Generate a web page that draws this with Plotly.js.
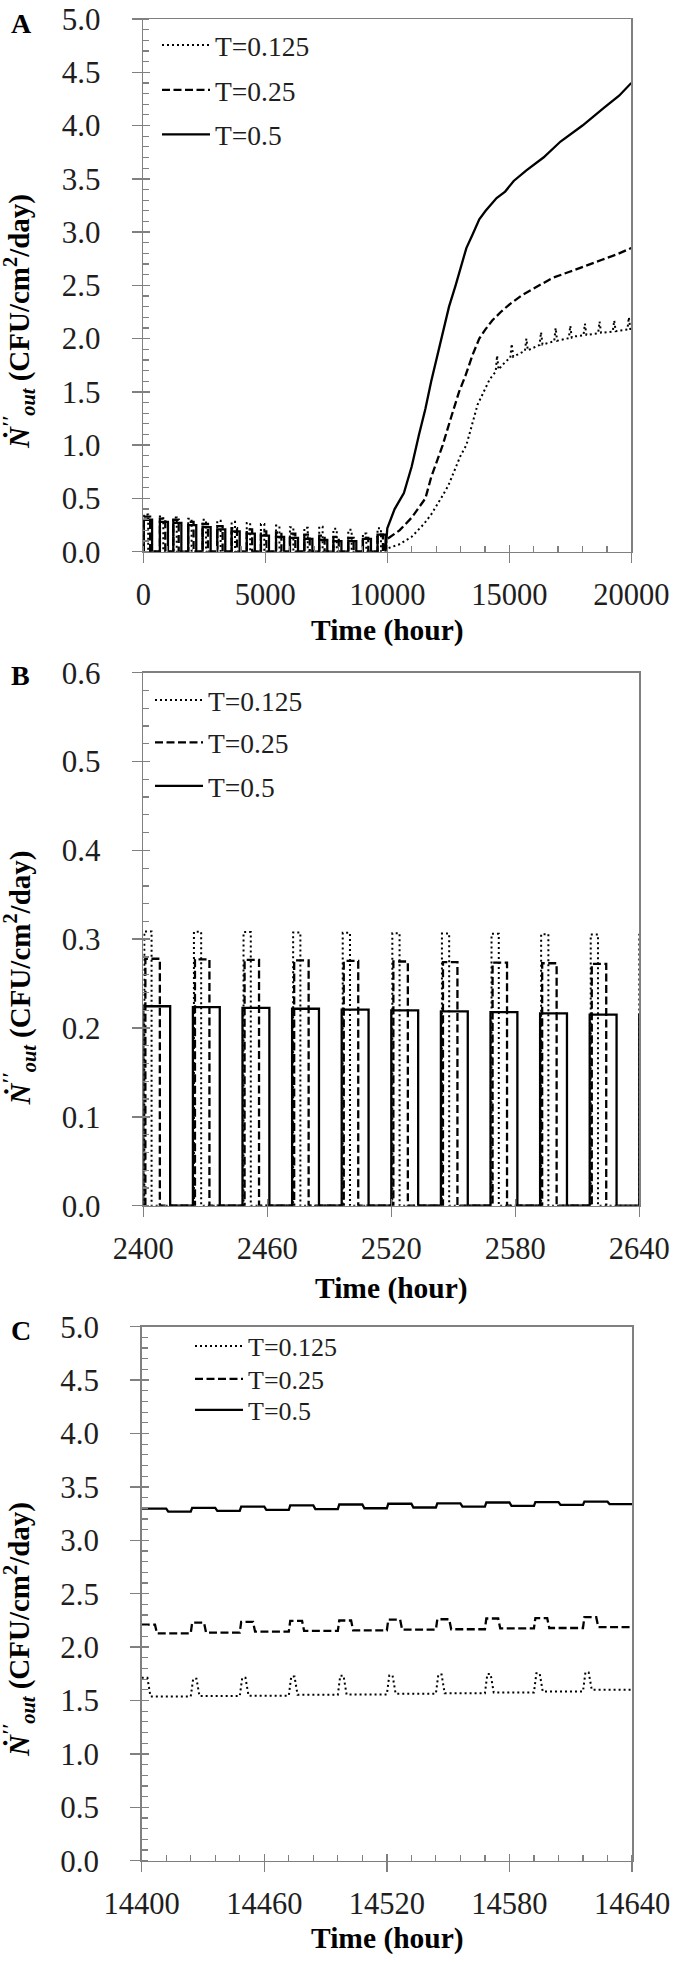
<!DOCTYPE html>
<html><head><meta charset="utf-8">
<script src="https://cdn.plot.ly/plotly-3.0.1.min.js"></script>
<style>html,body{margin:0;padding:0;background:#fff}#chart{width:677px;height:1962px}</style>
</head><body><div id="chart"></div>
<script>
// ---------------- DATA ----------------
const seriesNames = ['T=0.125', 'T=0.25', 'T=0.5'];

// Panel A: long run, 0-20000 h. Early comb blocks (start, end, height) then the rise.
const combStartA   = [20, 680, 1230, 1840, 2430, 3030, 3620, 4240, 4820, 5440, 6010, 6600, 7210, 7790, 8400, 9000, 9600];
const combEndSolidA= [360, 1010, 1560, 2170, 2760, 3360, 3950, 4570, 5150, 5770, 6340, 6930, 7540, 8120, 8730, 9330, 9930];
const combEndDashA = [280, 900, 1450, 2060, 2650, 3250, 3840, 4460, 5040, 5660, 6230, 6820, 7430, 8010, 8620, 9220, 9820];
const combEndDotA  = [200, 820, 1370, 1980, 2570, 3170, 3760, 4380, 4960, 5580, 6150, 6740, 7350, 7930, 8540, 9140, 9740];
const combSolidA   = [0.30, 0.28, 0.27, 0.25, 0.23, 0.21, 0.19, 0.17, 0.15, 0.14, 0.13, 0.12, 0.11, 0.10, 0.10, 0.12, 0.16];
const combDashA    = [0.33, 0.31, 0.30, 0.28, 0.26, 0.24, 0.22, 0.21, 0.19, 0.18, 0.17, 0.16, 0.15, 0.14, 0.13, 0.13, 0.16];
const combDotA     = [0.35, 0.33, 0.32, 0.31, 0.30, 0.29, 0.28, 0.27, 0.26, 0.245, 0.23, 0.225, 0.235, 0.215, 0.205, 0.17, 0.22];

const riseXSolidA = [10000, 10300, 10680, 11000, 11300, 11560, 11800, 12000, 12270, 12530, 12800, 13000, 13240, 13500, 13770, 14030, 14480, 14830, 15180, 15700, 16400, 17100, 18000, 18900, 19500, 20000];
const riseYSolidA = [0.22, 0.40, 0.55, 0.80, 1.10, 1.34, 1.60, 1.80, 2.06, 2.30, 2.50, 2.65, 2.85, 2.98, 3.12, 3.20, 3.32, 3.38, 3.48, 3.58, 3.70, 3.85, 4.00, 4.17, 4.28, 4.40];
const riseXDashA  = [10000, 10500, 11000, 11300, 11560, 11800, 12000, 12270, 12600, 12940, 13200, 13500, 13770, 14000, 14300, 14650, 15000, 15530, 16000, 16770, 17500, 18180, 18800, 19400, 20000];
const riseYDashA  = [0.12, 0.20, 0.32, 0.42, 0.50, 0.70, 0.82, 1.00, 1.25, 1.50, 1.65, 1.85, 2.00, 2.08, 2.17, 2.25, 2.32, 2.41, 2.47, 2.57, 2.63, 2.69, 2.74, 2.79, 2.85];
const riseXDotA   = [10000, 10500, 11000, 11500, 11800, 12000, 12200, 12500, 12800, 13000, 13240, 13500, 13700, 13950, 14200, 14440, 14500, 14560, 14830, 15040, 15100, 15160, 15600, 15640, 15700, 15760, 16240, 16300, 16360, 16840, 16900, 16960, 17440, 17500, 17560, 17650, 18040, 18100, 18160, 18640, 18700, 18760, 19240, 19300, 19360, 19840, 19900, 19960, 20000];
const riseYDotA   = [0.03, 0.07, 0.14, 0.26, 0.35, 0.42, 0.50, 0.62, 0.78, 0.90, 1.00, 1.22, 1.38, 1.50, 1.62, 1.69, 1.84, 1.71, 1.78, 1.82, 1.95, 1.83, 1.88, 1.885, 2.00, 1.89, 1.94, 2.06, 1.945, 1.975, 2.10, 1.98, 2.005, 2.12, 2.01, 2.02, 2.03, 2.14, 2.035, 2.05, 2.16, 2.055, 2.065, 2.17, 2.07, 2.085, 2.20, 2.09, 2.09];

// Panel B: 2400-2640 h, daily pulses
const solidStartB = [2400, 2424, 2448, 2472, 2496, 2520, 2544, 2568, 2592, 2616, 2640];
const solidEndB   = [2413, 2437, 2461, 2485, 2509, 2533, 2557, 2581, 2605, 2629, 2653];
const solidPeakB  = [0.2245, 0.2236, 0.2226, 0.2217, 0.2207, 0.2198, 0.2188, 0.2178, 0.2164, 0.2150, 0.2150];
const dashStartB  = [2401, 2425, 2449, 2473, 2497, 2521, 2545, 2569, 2593, 2617];
const dashEndB    = [2408, 2432, 2456, 2480, 2504, 2528, 2552, 2576, 2600, 2624];
const dashPeakB   = [0.2780, 0.2774, 0.2768, 0.2761, 0.2755, 0.2749, 0.2742, 0.2736, 0.2729, 0.2723];
const dotStartB   = [2400.5, 2424.5, 2448.5, 2472.5, 2496.5, 2520.5, 2544.5, 2568.5, 2592.5, 2616.5, 2640];
const dotEndB     = [2404, 2428, 2452, 2476, 2500, 2524, 2548, 2572, 2596, 2620, 2644];
const dotPeakB    = [0.3088, 0.3084, 0.3080, 0.3076, 0.3072, 0.3068, 0.3064, 0.3060, 0.3057, 0.3053, 0.3050];

// Panel C: 14400-14640 h, daily ripple (high / low level of each day)
const dayStartC  = [14400, 14424, 14448, 14472, 14496, 14520, 14544, 14568, 14592, 14616];
const solidHighC = [3.296, 3.303, 3.315, 3.327, 3.335, 3.342, 3.346, 3.354, 3.358, 3.362];
const solidLowC  = [3.268, 3.276, 3.284, 3.292, 3.300, 3.307, 3.315, 3.323, 3.331, 3.339];
const dashHighC  = [2.210, 2.230, 2.237, 2.245, 2.249, 2.257, 2.261, 2.268, 2.272, 2.280];
const dashLowC   = [2.128, 2.136, 2.144, 2.152, 2.156, 2.163, 2.167, 2.175, 2.179, 2.187];
const dotHighC   = [1.712, 1.704, 1.712, 1.724, 1.732, 1.735, 1.743, 1.747, 1.755, 1.763];
const dotLowC    = [1.537, 1.541, 1.545, 1.553, 1.556, 1.564, 1.568, 1.576, 1.584, 1.600];
const endC = 14640;
// on-phase timing per series (hours): rise, on-duration, fall
const phaseSolidC = [0.7, 12, 1];
const phaseDashC  = [0.7, 6.5, 1];
const phaseDotC   = [1.2, 2.8, 1.5];

// ---------------- BUILDERS ----------------
function pulses(starts, ends, heights) {
  const x = [], y = [];
  starts.forEach((s, i) => { x.push(s, s, ends[i], ends[i]); y.push(0, heights[i], heights[i], 0); });
  return {x, y};
}
function ripple(starts, phase, highs, lows, endT) {
  const x = [], y = [];
  starts.forEach((s, i) => {
    x.push(i === 0 ? s : s + phase[0]); y.push(highs[i]);
    x.push(s + phase[1]); y.push(highs[i]);
    x.push(s + phase[1] + phase[2]); y.push(lows[i]);
    x.push(i + 1 < starts.length ? starts[i + 1] : endT); y.push(lows[i]);
  });
  return {x, y};
}

const W = 677, H = 1962;
const px = v => v / W, py = v => 1 - v / H;
const FONT = 'Liberation Serif, Times New Roman, serif';
const AX = '#808080';
const TXT = '#1e1e1e';

const styles = [
  {dash: '2px,3px', width: 2},
  {dash: '8px,3.5px', width: 2.3},
  {dash: 'solid', width: 2.3}
];

const traces = [];
function addPanel(xa, ya, data, legends) {
  data.forEach((d, i) => {
    traces.push({
      type: 'scatter', mode: 'lines', x: d.x, y: d.y, xaxis: xa, yaxis: ya,
      name: seriesNames[i], legend: legends[i],
      line: {color: '#000', width: styles[i].width, dash: styles[i].dash},
      hoverinfo: 'skip'
    });
  });
}

const cA = [pulses(combStartA, combEndDotA, combDotA), pulses(combStartA, combEndDashA, combDashA), pulses(combStartA, combEndSolidA, combSolidA)];
const A = [
  {x: cA[0].x.concat(riseXDotA), y: cA[0].y.concat(riseYDotA)},
  {x: cA[1].x.concat(riseXDashA), y: cA[1].y.concat(riseYDashA)},
  {x: cA[2].x.concat(riseXSolidA), y: cA[2].y.concat(riseYSolidA)}
];
addPanel('x', 'y', A, ['legend', 'legend2', 'legend3']);
addPanel('x2', 'y2', [pulses(dotStartB, dotEndB, dotPeakB), pulses(dashStartB, dashEndB, dashPeakB), pulses(solidStartB, solidEndB, solidPeakB)], ['legend4', 'legend5', 'legend6']);
addPanel('x3', 'y3', [ripple(dayStartC, phaseDotC, dotHighC, dotLowC, endC), ripple(dayStartC, phaseDashC, dashHighC, dashLowC, endC), ripple(dayStartC, phaseSolidC, solidHighC, solidLowC, endC)], ['legend7', 'legend8', 'legend9']);

// empty traces that carry the overlay axes (inner half of the crossing major ticks)
['4', '5', '6'].forEach(n => traces.push({type: 'scatter', mode: 'lines', x: [null], y: [null], xaxis: 'x' + n, yaxis: 'y' + n, showlegend: false, hoverinfo: 'skip'}));

function xAxis(dom, range, dtick, minor, anchor) {
  const a = {
    domain: [px(dom[0]), px(dom[1])], range, autorange: false, anchor,
    showline: true, linecolor: AX, linewidth: 1.5, mirror: true,
    showgrid: false, zeroline: false,
    ticks: 'outside', ticklen: 10, tickwidth: 1.5, tickcolor: AX,
    tick0: range[0], dtick, tickformat: 'd',
    tickfont: {family: FONT, size: 30.5, color: TXT},
    ticklabelstandoff: 5, fixedrange: true
  };
  if (minor) a.minor = {tick0: range[0], dtick: minor, ticks: 'inside', ticklen: 6, tickwidth: 1.2, tickcolor: AX, showgrid: false};
  return a;
}
function yAxis(dom, range, dtick, minor, anchor) {
  return {
    domain: [py(dom[1]), py(dom[0])], range, autorange: false, anchor,
    showline: true, linecolor: AX, linewidth: 1.5, mirror: true,
    showgrid: false, zeroline: false,
    ticks: 'outside', ticklen: 10, tickwidth: 1.5, tickcolor: AX,
    tick0: 0, dtick, tickformat: '.1f',
    tickfont: {family: FONT, size: 31, color: TXT},
    ticklabelstandoff: 25, fixedrange: true,
    minor: {tick0: 0, dtick: minor, ticks: 'inside', ticklen: 6, tickwidth: 1.2, tickcolor: AX, showgrid: false}
  };
}
function overlayAxis(base, anchor, range, dtick, side) {
  return {
    overlaying: base, anchor, side, range, autorange: false,
    ticks: 'inside', ticklen: 7, tickwidth: 1.5, tickcolor: AX,
    tick0: range[0], dtick, showticklabels: false, showline: false,
    showgrid: false, zeroline: false, fixedrange: true
  };
}

const layout = {
  width: W, height: H, margin: {l: 0, r: 0, t: 0, b: 0},
  paper_bgcolor: '#fff', plot_bgcolor: '#fff', showlegend: true,
  xaxis:  xAxis([143.3, 631.3], [0, 20000], 5000, 1000, 'y'),
  yaxis:  yAxis([19, 551.7], [0, 5], 0.5, 0.1, 'x'),
  xaxis2: xAxis([143.3, 639.3], [2400, 2640], 60, null, 'y2'),
  yaxis2: yAxis([672.7, 1205.7], [0, 0.6], 0.1, 0.02, 'x2'),
  xaxis3: xAxis([141.7, 632], [14400, 14640], 60, 12, 'y3'),
  yaxis3: yAxis([1326.7, 1860.7], [0, 5], 0.5, 0.1, 'x3'),
  xaxis4: overlayAxis('x', 'y4', [0, 20000], 5000, 'bottom'),
  yaxis4: overlayAxis('y', 'x4', [0, 5], 0.5, 'left'),
  xaxis5: overlayAxis('x2', 'y5', [2400, 2640], 60, 'bottom'),
  yaxis5: overlayAxis('y2', 'x5', [0, 0.6], 0.1, 'left'),
  xaxis6: overlayAxis('x3', 'y6', [14400, 14640], 60, 'bottom'),
  yaxis6: overlayAxis('y3', 'x6', [0, 5], 0.5, 'left'),
  annotations: []
};

// legends: one per entry, placed where the reference shows them
const legendSpots = [
  [157, 45, 27.5], [157, 90, 27.5], [157, 134.5, 27.5],
  [150, 700, 27.5], [150, 742.5, 27.5], [150, 786, 27.5],
  [190, 1346, 26], [190, 1379, 26], [190, 1410, 26]
];
legendSpots.forEach((s, i) => {
  layout[i === 0 ? 'legend' : 'legend' + (i + 1)] = {
    x: px(s[0]), xanchor: 'left', y: py(s[1]), yanchor: 'middle',
    bgcolor: 'rgba(0,0,0,0)', borderwidth: 0, itemwidth: 48,
    font: {family: FONT, size: s[2], color: TXT}
  };
});

const yTitle = '<b><i>Ṅ</i><sup><i>′′</i></sup><sub><i>out</i></sub> (CFU/cm<sup>2</sup>/day)</b>';
const ann = (text, x, y, size, angle) => ({
  text, x: px(x), y: py(y), xref: 'paper', yref: 'paper', showarrow: false,
  xanchor: 'center', yanchor: 'middle', textangle: angle || 0,
  font: {family: FONT, size, color: '#000'}
});
layout.annotations.push(
  ann('<b>A</b>', 22, 23, 28), ann('<b>B</b>', 20.5, 676, 28), ann('<b>C</b>', 21, 1330, 28),
  ann('<b>Time (hour)</b>', 387, 630, 29.5), ann('<b>Time (hour)</b>', 391, 1288, 29.5), ann('<b>Time (hour)</b>', 387, 1938, 29.5),
  ann(yTitle, 19, 322, 29, -90), ann(yTitle, 19, 978.6, 29, -90), ann(yTitle, 19, 1630, 29, -90)
);

Plotly.newPlot('chart', traces, layout, {staticPlot: true, displayModeBar: false});
</script>
</body></html>
